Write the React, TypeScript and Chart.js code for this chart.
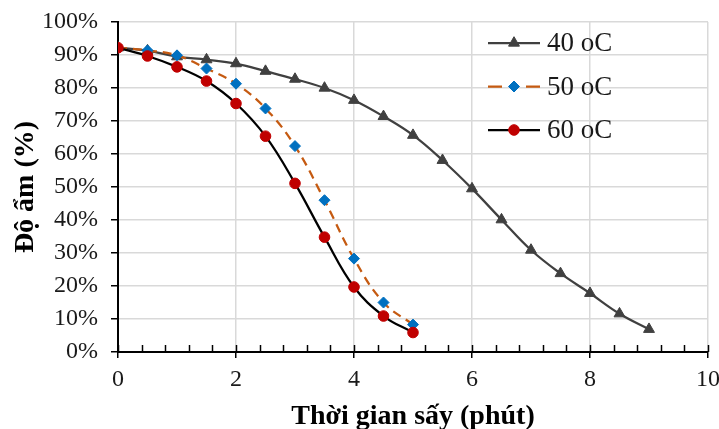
import React, { useEffect, useRef } from 'react';
import { Chart, registerables } from 'chart.js';
import { drawPoint } from 'chart.js/helpers';

Chart.register(...registerables);

// ---- Data ----
const time40 = [0, 0.5, 1, 1.5, 2, 2.5, 3, 3.5, 4, 4.5, 5, 5.5, 6, 6.5, 7, 7.5, 8, 8.5, 9];
const moisture40 = [92.2, 91.3, 89.5, 88.6, 87.4, 85.1, 82.7, 80.0, 76.3, 71.4, 65.7, 58.1, 49.5, 40.1, 30.9, 23.8, 17.8, 11.6, 6.9];

const time50 = [0, 0.5, 1, 1.5, 2, 2.5, 3, 3.5, 4, 4.5, 5];
const moisture50 = [92.2, 91.4, 89.9, 85.9, 81.3, 73.8, 62.4, 46.0, 28.3, 15.0, 8.3];

const time60 = [0, 0.5, 1, 1.5, 2, 2.5, 3, 3.5, 4, 4.5, 5];
const moisture60 = [92.2, 89.7, 86.4, 82.1, 75.3, 65.4, 51.1, 34.8, 19.7, 10.9, 5.9];

const seriesLabels = ['40 oC', '50 oC', '60 oC'];
const xTitle = 'Thời gian sấy (phút)';
const yTitle = 'Độ ẩm (%)';

const SERIF = '"Liberation Serif", "Times New Roman", serif';

function pts(xs: number[], ys: number[]) {
  return xs.map((x, i) => ({ x, y: ys[i] }));
}

const insideLegend = {
  id: 'insideLegend',
  afterDatasetsDraw(chart: any) {
    const { ctx, chartArea } = chart;
    const x0 = chartArea.left + 370;
    const lineLen = 52;
    chart.data.datasets.forEach((ds: any, i: number) => {
      const y = chartArea.top + 21 + i * 43.5;
      ctx.save();
      ctx.strokeStyle = ds.borderColor;
      ctx.lineWidth = ds.borderWidth;
      ctx.beginPath();
      if (ds.borderDash && ds.borderDash.length) {
        ctx.moveTo(x0, y);
        ctx.lineTo(x0 + 14, y);
        ctx.moveTo(x0 + lineLen - 14, y);
        ctx.lineTo(x0 + lineLen, y);
      } else {
        ctx.moveTo(x0, y);
        ctx.lineTo(x0 + lineLen, y);
      }
      ctx.stroke();
      ctx.fillStyle = ds.pointBackgroundColor;
      ctx.strokeStyle = ds.pointBorderColor;
      ctx.lineWidth = 1;
      drawPoint(ctx, { pointStyle: ds.pointStyle, radius: ds.pointRadius, rotation: 0, borderWidth: 1 } as any, x0 + lineLen / 2, y);
      ctx.fillStyle = '#1a1a1a';
      ctx.font = `27px ${SERIF}`;
      ctx.textBaseline = 'middle';
      ctx.textAlign = 'left';
      ctx.fillText(seriesLabels[i], x0 + lineLen + 7, y + 1);
      ctx.restore();
    });
  },
};

const xTicksPlugin = {
  id: 'xMinorTicks',
  afterDraw(chart: any) {
    const { ctx } = chart;
    const xs = chart.scales.x;
    const yAxis = chart.chartArea.bottom;
    ctx.save();
    ctx.strokeStyle = '#000';
    ctx.lineWidth = 1.5;
    for (let k = 0; k <= 25; k++) {
      const v = k * 0.4;
      const px = Math.round(xs.getPixelForValue(v)) + 0.5;
      ctx.beginPath();
      ctx.moveTo(px, yAxis - 7);
      ctx.lineTo(px, yAxis);
      ctx.stroke();
    }
    ctx.restore();
  },
};

export default function App() {
  const ref = useRef<HTMLCanvasElement>(null);

  useEffect(() => {
    if (!ref.current) return;
    const chart = new Chart(ref.current, {
      type: 'line',
      data: {
        datasets: [
          {
            label: seriesLabels[0],
            data: pts(time40, moisture40),
            borderColor: '#404040',
            borderWidth: 2.25,
            pointStyle: 'triangle',
            pointRadius: 6.3,
            pointBackgroundColor: '#404040',
            pointBorderColor: '#404040',
            pointBorderWidth: 1,
            tension: 0.4,
            order: 3,
          } as any,
          {
            label: seriesLabels[1],
            data: pts(time50, moisture50),
            borderColor: '#C55A11',
            borderWidth: 2.25,
            borderDash: [9, 6],
            pointStyle: 'rectRot',
            pointRadius: 5.5,
            pointBackgroundColor: '#0070C0',
            pointBorderColor: '#0070C0',
            pointBorderWidth: 1,
            tension: 0.4,
            order: 2,
          } as any,
          {
            label: seriesLabels[2],
            data: pts(time60, moisture60),
            borderColor: '#000000',
            borderWidth: 2.25,
            pointStyle: 'circle',
            pointRadius: 5.3,
            pointBackgroundColor: '#C00000',
            pointBorderColor: '#C00000',
            pointBorderWidth: 1,
            tension: 0.4,
            order: 1,
          } as any,
        ],
      },
      options: {
        responsive: false,
        animation: false,
        devicePixelRatio: 1,
        layout: { padding: { top: 22, right: 11, left: 0, bottom: 0 } },
        plugins: {
          legend: { display: false },
          tooltip: { enabled: false },
        },
        scales: {
          x: {
            type: 'linear',
            min: 0,
            max: 10,
            ticks: {
              stepSize: 2,
              color: '#1a1a1a',
              font: { family: SERIF, size: 24 },
              padding: 7,
              maxRotation: 0,
            },
            grid: {
              color: '#d9d9d9',
              lineWidth: 1.5,
              drawTicks: true,
              tickLength: 6,
              tickColor: '#000',
              tickWidth: 1.5,
            },
            border: { color: '#000', width: 2 },
            title: {
              display: true,
              text: xTitle,
              color: '#000',
              font: { family: SERIF, size: 28, weight: 'bold' },
              padding: { top: 0, bottom: -5 },
            },
            afterFit: (s: any) => {
              s.height = 429 - 352;
              s.paddingLeft = 0;
              s.paddingRight = 0;
            },
          },
          y: {
            type: 'linear',
            min: 0,
            max: 100,
            ticks: {
              stepSize: 10,
              color: '#1a1a1a',
              font: { family: SERIF, size: 24 },
              padding: 13,
              callback: (v: any) => `${v}%`,
            },
            grid: {
              color: '#d9d9d9',
              lineWidth: 1.5,
              drawTicks: true,
              tickLength: 7,
              tickColor: '#000',
              tickWidth: 1.5,
            },
            border: { color: '#000', width: 2 },
            title: {
              display: true,
              text: yTitle,
              color: '#000',
              font: { family: SERIF, size: 28, weight: 'bold' },
              padding: { top: 9, bottom: 0 },
            },
            afterFit: (s: any) => {
              s.width = 118;
              s.paddingTop = 0;
              s.paddingBottom = 0;
            },
          },
        },
      },
      plugins: [insideLegend, xTicksPlugin],
    });
    return () => chart.destroy();
  }, []);

  return (
    <div style={{ position: 'fixed', left: 0, top: 0, width: 719, height: 429, overflow: 'hidden', background: '#fff' }}>
      <canvas ref={ref} width={719} height={429} style={{ width: 719, height: 429, display: 'block' }} />
    </div>
  );
}
